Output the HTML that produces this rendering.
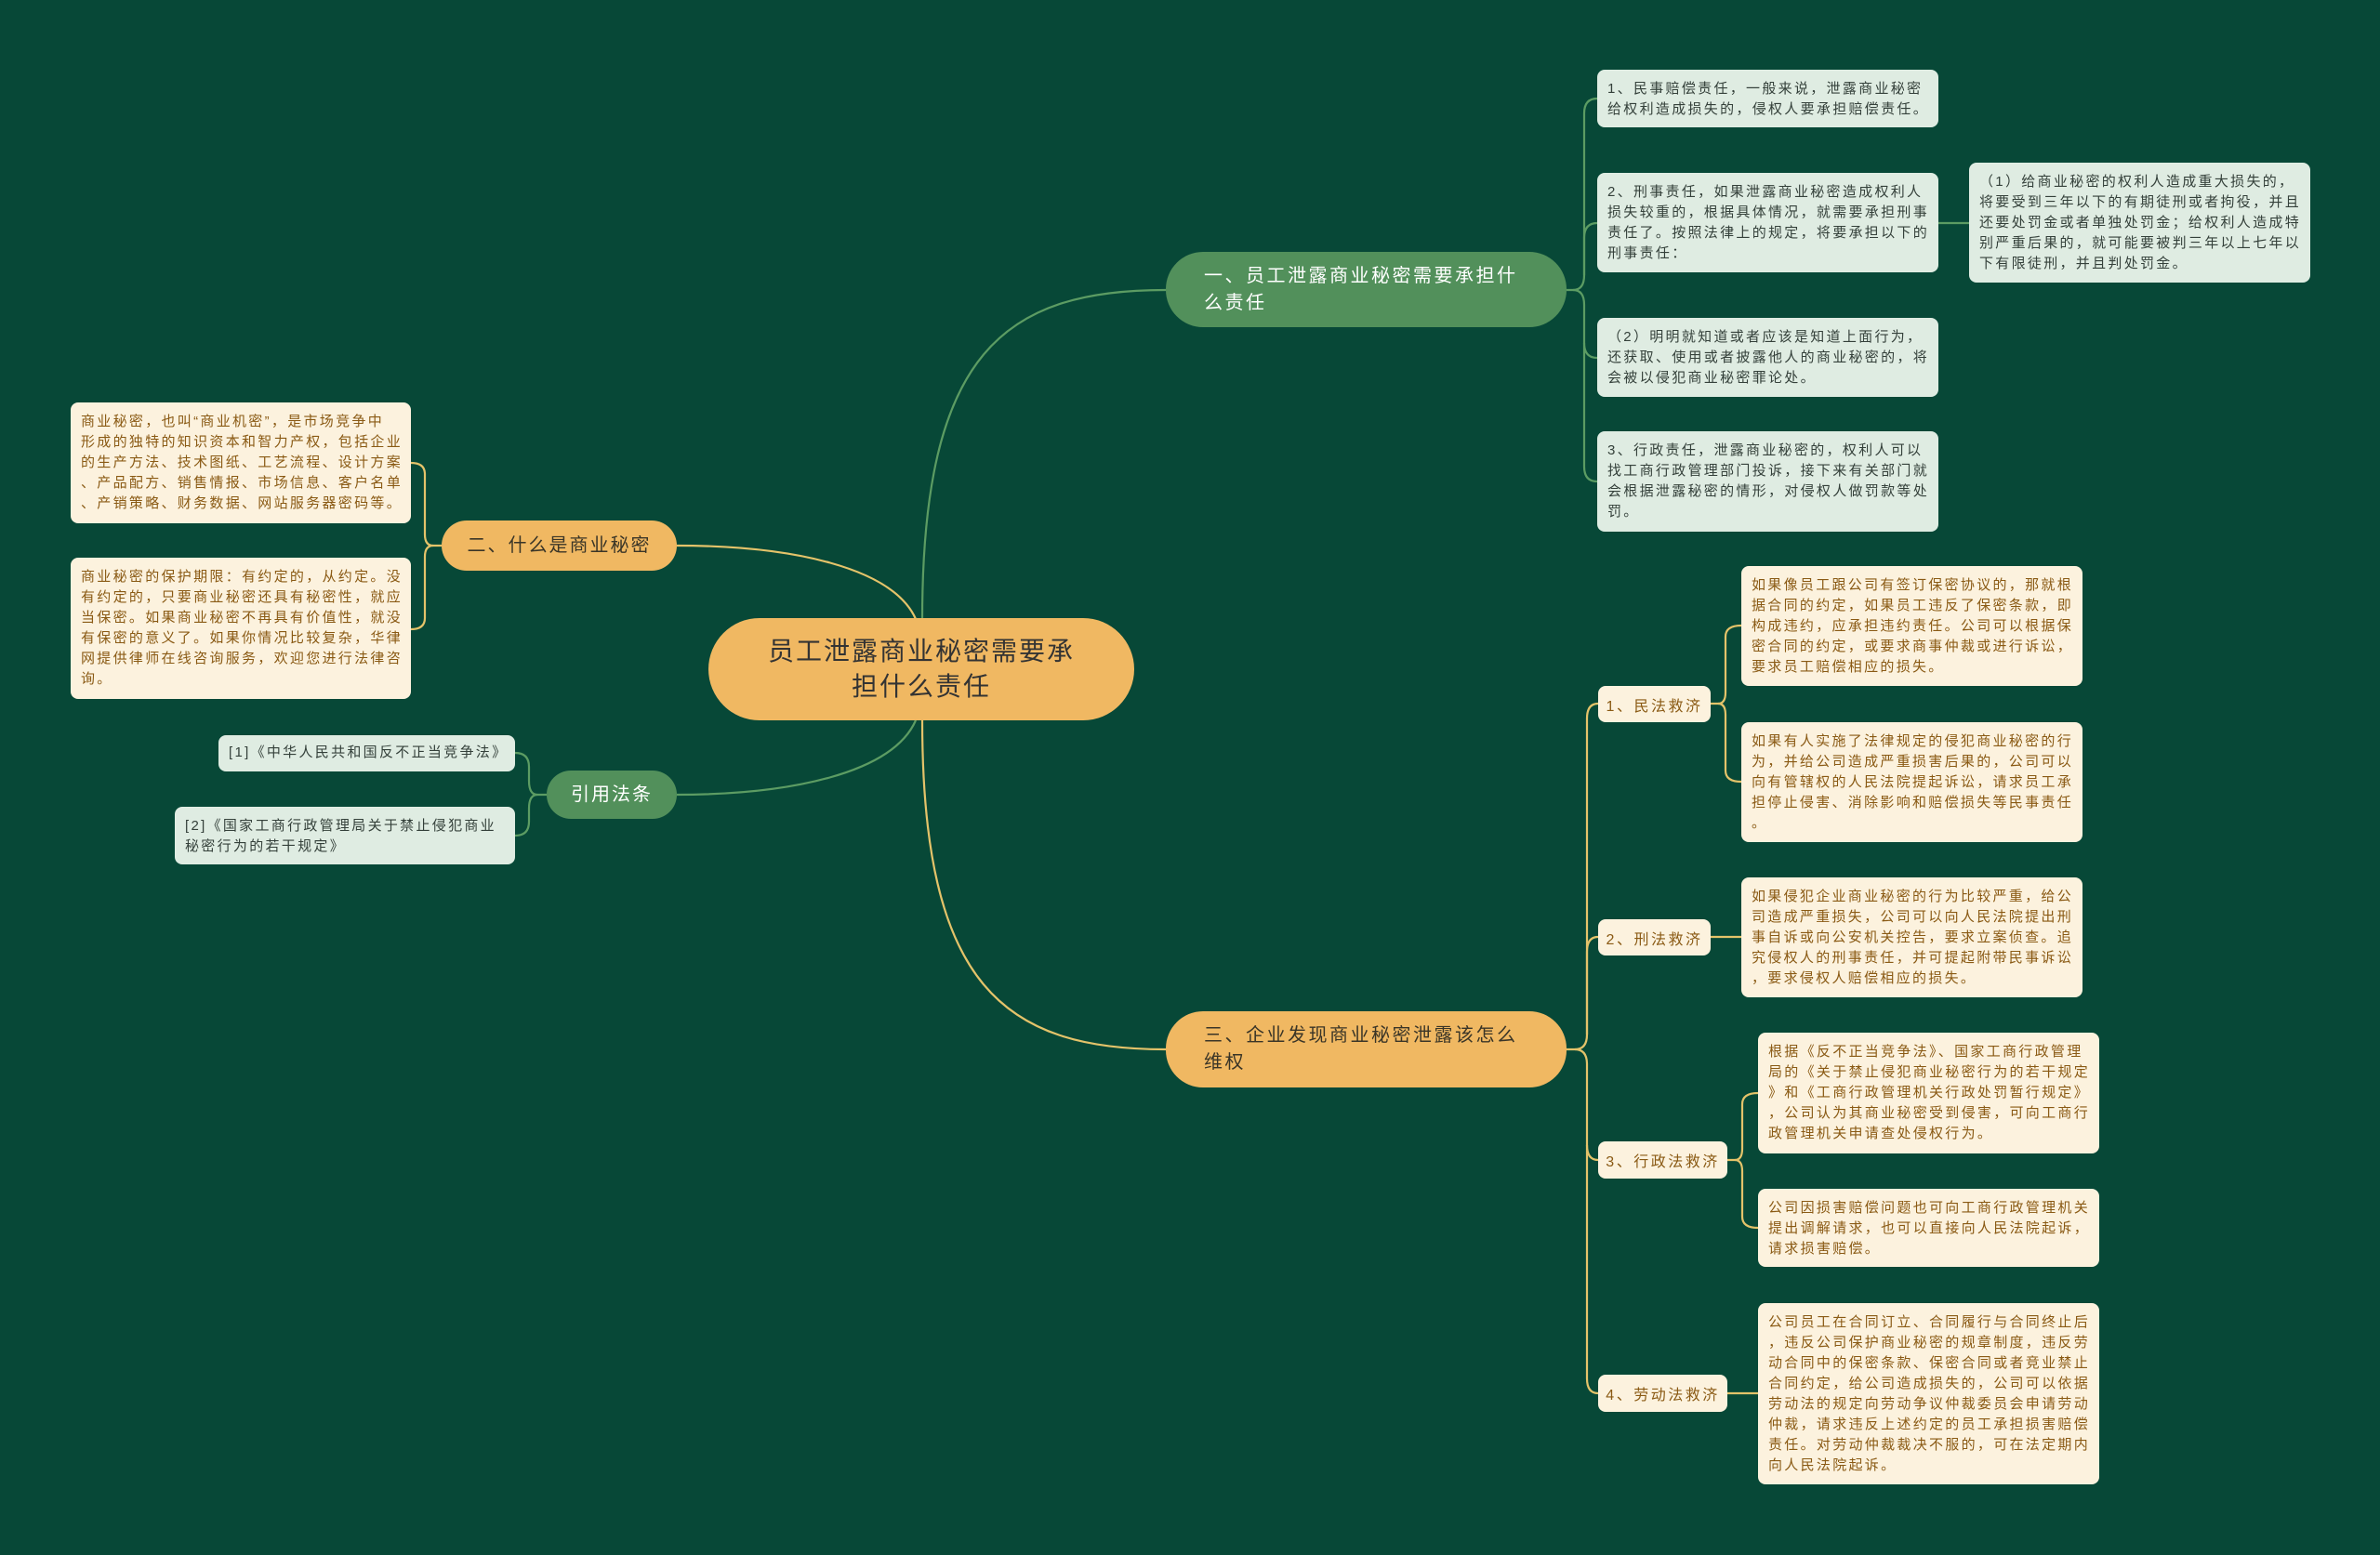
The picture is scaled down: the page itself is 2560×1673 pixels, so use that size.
<!DOCTYPE html>
<html><head><meta charset="utf-8"><style>
html,body{margin:0;padding:0;}
body{width:2560px;height:1673px;background:#074837;position:relative;overflow:hidden;font-family:"Liberation Sans","Noto Sans CJK SC",sans-serif;}
svg{position:absolute;left:0;top:0;}
.b{position:absolute;box-sizing:border-box;border-radius:8px;padding:10px 10px 0 11px;font-size:15px;line-height:22px;letter-spacing:2.3px;white-space:nowrap;}
.g{background:#dfece2;color:#34403a;}
.c{background:#fcf2de;color:#8a5a14;}
.n{position:absolute;box-sizing:border-box;border-radius:40px;white-space:nowrap;}
.lab{position:absolute;box-sizing:border-box;border-radius:8px;background:#fcf2de;color:#8a5a14;font-size:16px;letter-spacing:2.5px;display:flex;align-items:center;justify-content:center;}
</style></head><body>
<svg width="2560" height="1673" fill="none" stroke-width="2.2">
<g stroke="#5c9c63">
<path d="M992 666 C992 380 1080 312 1254 312"/>
<path d="M985 775 C960 832 850 855 728 855"/>
<path d="M1685 312 L1692 312 Q1704 312 1704 296 L1704 122 Q1704 106 1718 106"/>
<path d="M1704 296 L1704 256 Q1704 240 1718 240"/>
<path d="M1692 312 Q1704 312 1704 328 L1704 369 Q1704 385 1718 385"/>
<path d="M1704 369 L1704 502 Q1704 518 1718 518"/>
<path d="M2085 240 L2118 240"/>
<path d="M588 855 L578 855 Q569 855 569 840 L569 825 Q569 810 554 810"/>
<path d="M578 855 Q569 855 569 870 L569 884 Q569 899 554 899"/>
</g>
<g stroke="#e4c36a">
<path d="M985 666 C960 610 850 587 728 587"/>
<path d="M992 775 C992 1060 1080 1129 1254 1129"/>
<path d="M1685 1129 L1694 1129 Q1707 1129 1707 1113 L1707 773 Q1707 757 1719 757"/>
<path d="M1707 1113 L1707 1024 Q1707 1008 1719 1008"/>
<path d="M1694 1129 Q1707 1129 1707 1145 L1707 1232 Q1707 1248 1719 1248"/>
<path d="M1707 1232 L1707 1483 Q1707 1499 1719 1499"/>
<path d="M1840 757 L1848 757 Q1856 757 1856 745 L1856 685 Q1856 673 1873 673"/>
<path d="M1848 757 Q1856 757 1856 769 L1856 829 Q1856 841 1873 841"/>
<path d="M1840 1008 L1873 1008"/>
<path d="M1858 1248 L1866 1248 Q1874 1248 1874 1236 L1874 1188 Q1874 1176 1891 1176"/>
<path d="M1866 1248 Q1874 1248 1874 1260 L1874 1309 Q1874 1321 1891 1321"/>
<path d="M1858 1499 L1891 1499"/>
<path d="M475 587 L466 587 Q457 587 457 575 L457 510 Q457 498 442 498"/>
<path d="M466 587 Q457 587 457 599 L457 665 Q457 677 442 677"/>
</g>
</svg>

<div class="n" style="left:762px;top:665px;width:458px;height:110px;background:#f0b862;color:#333;font-size:28px;letter-spacing:2px;line-height:38px;text-align:center;padding-top:17px;border-radius:55px;">员工泄露商业秘密需要承<br>担什么责任</div>

<div class="n" style="left:1254px;top:271px;width:431px;height:81px;background:#52905b;color:#fff;font-size:20px;letter-spacing:2.5px;line-height:29px;padding:12px 0 0 41px;">一、员工泄露商业秘密需要承担什<br>么责任</div>
<div class="n" style="left:1254px;top:1088px;width:431px;height:82px;background:#f0b862;color:#3a3527;font-size:20px;letter-spacing:2.5px;line-height:29px;padding:12px 0 0 41px;">三、企业发现商业秘密泄露该怎么<br>维权</div>
<div class="n" style="left:475px;top:560px;width:253px;height:54px;background:#f0b862;color:#3a3527;font-size:20px;letter-spacing:2px;line-height:54px;text-align:center;">二、什么是商业秘密</div>
<div class="n" style="left:588px;top:829px;width:140px;height:52px;background:#52905b;color:#fff;font-size:20px;letter-spacing:2px;line-height:52px;text-align:center;">引用法条</div>

<div class="b g" style="left:1718px;top:75px;width:367px;height:62px;">1、民事赔偿责任，一般来说，泄露商业秘密<br>给权利造成损失的，侵权人要承担赔偿责任。</div>
<div class="b g" style="left:1718px;top:186px;width:367px;height:107px;">2、刑事责任，如果泄露商业秘密造成权利人<br>损失较重的，根据具体情况，就需要承担刑事<br>责任了。按照法律上的规定，将要承担以下的<br>刑事责任：</div>
<div class="b g" style="left:2118px;top:175px;width:367px;height:129px;">（1）给商业秘密的权利人造成重大损失的，<br>将要受到三年以下的有期徒刑或者拘役，并且<br>还要处罚金或者单独处罚金；给权利人造成特<br>别严重后果的，就可能要被判三年以上七年以<br>下有限徒刑，并且判处罚金。</div>
<div class="b g" style="left:1718px;top:342px;width:367px;height:85px;">（2）明明就知道或者应该是知道上面行为，<br>还获取、使用或者披露他人的商业秘密的，将<br>会被以侵犯商业秘密罪论处。</div>
<div class="b g" style="left:1718px;top:464px;width:367px;height:108px;">3、行政责任，泄露商业秘密的，权利人可以<br>找工商行政管理部门投诉，接下来有关部门就<br>会根据泄露秘密的情形，对侵权人做罚款等处<br>罚。</div>

<div class="b c" style="left:76px;top:433px;width:366px;height:130px;">商业秘密，也叫“商业机密”，是市场竞争中<br>形成的独特的知识资本和智力产权，包括企业<br>的生产方法、技术图纸、工艺流程、设计方案<br>、产品配方、销售情报、市场信息、客户名单<br>、产销策略、财务数据、网站服务器密码等。</div>
<div class="b c" style="left:76px;top:600px;width:366px;height:152px;">商业秘密的保护期限：有约定的，从约定。没<br>有约定的，只要商业秘密还具有秘密性，就应<br>当保密。如果商业秘密不再具有价值性，就没<br>有保密的意义了。如果你情况比较复杂，华律<br>网提供律师在线咨询服务，欢迎您进行法律咨<br>询。</div>
<div class="b g" style="left:235px;top:791px;width:319px;height:39px;padding-top:8px;">[1]《中华人民共和国反不正当竞争法》</div>
<div class="b g" style="left:188px;top:868px;width:366px;height:62px;">[2]《国家工商行政管理局关于禁止侵犯商业<br>秘密行为的若干规定》</div>

<div class="lab" style="left:1719px;top:738px;width:121px;height:39px;">1、民法救济</div>
<div class="lab" style="left:1719px;top:989px;width:121px;height:39px;">2、刑法救济</div>
<div class="lab" style="left:1719px;top:1228px;width:139px;height:40px;">3、行政法救济</div>
<div class="lab" style="left:1719px;top:1479px;width:139px;height:40px;">4、劳动法救济</div>

<div class="b c" style="left:1873px;top:609px;width:367px;height:129px;">如果像员工跟公司有签订保密协议的，那就根<br>据合同的约定，如果员工违反了保密条款，即<br>构成违约，应承担违约责任。公司可以根据保<br>密合同的约定，或要求商事仲裁或进行诉讼，<br>要求员工赔偿相应的损失。</div>
<div class="b c" style="left:1873px;top:777px;width:367px;height:129px;">如果有人实施了法律规定的侵犯商业秘密的行<br>为，并给公司造成严重损害后果的，公司可以<br>向有管辖权的人民法院提起诉讼，请求员工承<br>担停止侵害、消除影响和赔偿损失等民事责任<br>。</div>
<div class="b c" style="left:1873px;top:944px;width:367px;height:129px;">如果侵犯企业商业秘密的行为比较严重，给公<br>司造成严重损失，公司可以向人民法院提出刑<br>事自诉或向公安机关控告，要求立案侦查。追<br>究侵权人的刑事责任，并可提起附带民事诉讼<br>，要求侵权人赔偿相应的损失。</div>
<div class="b c" style="left:1891px;top:1111px;width:367px;height:130px;">根据《反不正当竞争法》、国家工商行政管理<br>局的《关于禁止侵犯商业秘密行为的若干规定<br>》和《工商行政管理机关行政处罚暂行规定》<br>，公司认为其商业秘密受到侵害，可向工商行<br>政管理机关申请查处侵权行为。</div>
<div class="b c" style="left:1891px;top:1279px;width:367px;height:84px;">公司因损害赔偿问题也可向工商行政管理机关<br>提出调解请求，也可以直接向人民法院起诉，<br>请求损害赔偿。</div>
<div class="b c" style="left:1891px;top:1402px;width:367px;height:195px;">公司员工在合同订立、合同履行与合同终止后<br>，违反公司保护商业秘密的规章制度，违反劳<br>动合同中的保密条款、保密合同或者竞业禁止<br>合同约定，给公司造成损失的，公司可以依据<br>劳动法的规定向劳动争议仲裁委员会申请劳动<br>仲裁，请求违反上述约定的员工承担损害赔偿<br>责任。对劳动仲裁裁决不服的，可在法定期内<br>向人民法院起诉。</div>
</body></html>
